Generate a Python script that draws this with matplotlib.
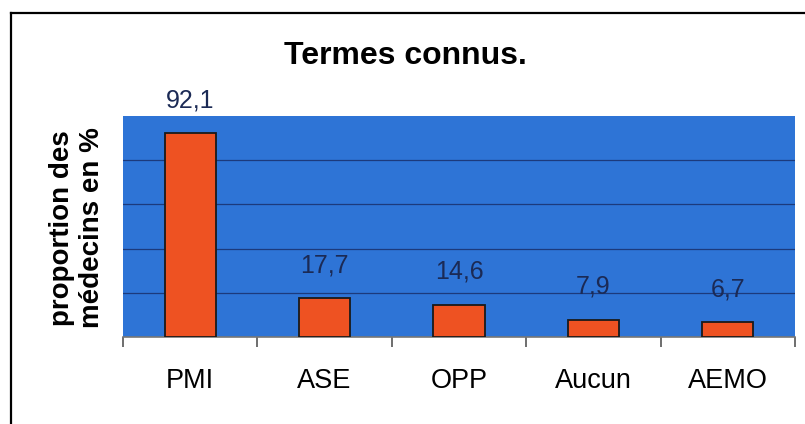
import numpy as np
import matplotlib
matplotlib.use("Agg")
import matplotlib.pyplot as plt
from matplotlib.lines import Line2D

plt.rcParams['font.family'] = ['Liberation Sans', 'DejaVu Sans']

categories = ["PMI", "ASE", "OPP", "Aucun", "AEMO"]
values = [92.1, 17.7, 14.6, 7.9, 6.7]
value_labels = ["92,1", "17,7", "14,6", "7,9", "6,7"]

W, H = 805, 424
fig = plt.figure(figsize=(W / 100, H / 100), dpi=100)
fig.patch.set_facecolor("white")

# chart frame (runs off the right and bottom edge in the scan)
fig.add_artist(Line2D([11 / W, 11 / W], [0, 1 - 13 / H], color="black", lw=1.6))
fig.add_artist(Line2D([11 / W, 1], [1 - 13 / H, 1 - 13 / H], color="black", lw=1.6))

ax = fig.add_axes([123 / W, 1 - 337 / H, (795 - 123) / W, (337 - 116) / H])
ax.set_facecolor("#2e74d6")

x = np.arange(len(categories))
ax.bar(x, values, width=0.38, color="#ee5222", edgecolor="#1a1a1a", linewidth=1.3, zorder=3)

for xi, v, lab in zip(x, values, value_labels):
    ax.annotate(lab, (xi, v), xytext=(0, 15), textcoords="offset points",
                ha="center", va="bottom", fontsize=18, color="#1b2a55", annotation_clip=False)

ax.set_xlim(-0.5, len(categories) - 0.5)
ax.set_ylim(0, 100)
ax.set_yticks([20, 40, 60, 80])
ax.yaxis.grid(True, color="#1c3a7c", lw=0.9, zorder=1)
ax.tick_params(axis="y", left=False, labelleft=False)

ax.set_xticks(x)
ax.set_xticklabels(categories, fontsize=19.5)
ax.set_xticks(np.arange(len(categories) + 1) - 0.5, minor=True)
ax.tick_params(axis="x", which="major", length=0, pad=22)
ax.tick_params(axis="x", which="minor", length=7, width=1.2, color="#555555", direction="out")

for side in ["top", "right", "left"]:
    ax.spines[side].set_visible(False)
ax.spines["bottom"].set_color("#777777")
ax.spines["bottom"].set_linewidth(1.2)

fig.text(405 / W, 1 - 64 / H, "Termes connus.", ha="center", va="baseline",
         fontsize=23, fontweight="bold")
fig.text(77 / W, 1 - 228 / H, "proportion des\nmédecins en %", ha="center", va="center",
         rotation=90, fontsize=20, fontweight="bold", multialignment="center", linespacing=1.18)

fig.savefig("out.png", dpi=100)
